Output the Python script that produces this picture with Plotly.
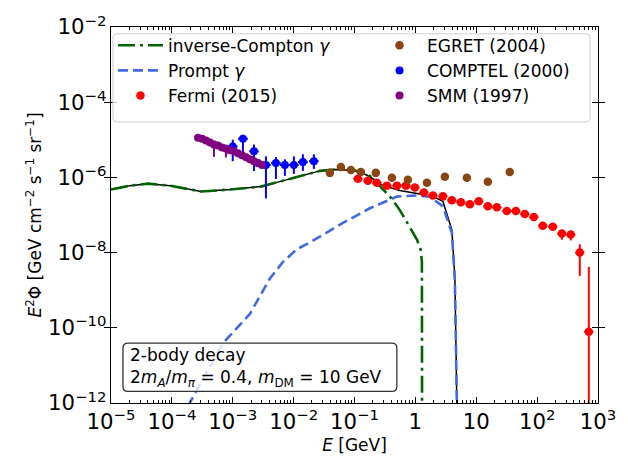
import plotly.graph_objects as go

# ---------------- data ----------------
# total (black) curve
total_E = [1.0e-5, 2.05e-5, 4.06e-5, 9.31e-5, 3.01e-4, 8.99e-4, 2.90e-3, 5.96e-3, 1.27e-2,
           2.70e-2, 4.76e-2, 0.102, 0.123, 0.179, 0.292, 0.556, 1.06, 1.94, 2.83, 3.98,
           4.46, 4.62, 4.81]
total_flux = [4.75e-7, 6.04e-7, 6.81e-7, 6.04e-7, 4.22e-7, 4.75e-7, 5.69e-7, 7.67e-7, 1.10e-6,
              1.49e-6, 1.63e-6, 1.53e-6, 1.40e-6, 1.04e-6, 6.04e-7, 4.48e-7, 3.74e-7, 3.13e-7,
              2.32e-7, 4.0e-8, 2.0e-9, 3.5e-11, 8.0e-13]

# inverse-Compton gamma
ic_E = [1.0e-5, 2.05e-5, 4.06e-5, 9.31e-5, 3.01e-4, 8.99e-4, 2.90e-3, 5.96e-3, 1.27e-2,
        2.70e-2, 4.76e-2, 0.102, 0.179, 0.261, 0.381, 0.556, 0.813, 1.06, 1.23, 1.28, 1.29]
ic_flux = [4.75e-7, 6.04e-7, 6.81e-7, 6.04e-7, 4.22e-7, 4.75e-7, 5.69e-7, 7.67e-7, 1.10e-6,
           1.49e-6, 1.63e-6, 1.53e-6, 1.10e-6, 6.04e-7, 3.13e-7, 1.35e-7, 4.58e-8, 2.23e-8,
           1.15e-8, 5.6e-9, 1.0e-13]

# prompt gamma
prompt_E = [1.84e-4, 6.90e-4, 1.91e-3, 4.08e-3, 6.67e-3, 1.13e-2, 1.85e-2, 6.46e-2, 0.179,
            0.497, 1.06, 1.73, 2.83, 3.98, 4.46, 4.62, 4.81]
prompt_flux = [8.3e-13, 3.89e-11, 2.34e-10, 2.04e-9, 5.62e-9, 1.23e-8, 1.86e-8, 6.17e-8, 1.51e-7,
               3.09e-7, 3.31e-7, 3.09e-7, 1.70e-7, 3.39e-8, 1.70e-9, 3.02e-11, 8.3e-13]

# Fermi (2015)
fermi_E = [0.114, 0.166, 0.233, 0.340, 0.497, 0.698, 0.982, 1.38, 1.94, 2.83, 3.97, 5.59, 7.85,
           11.0, 15.5, 21.8, 31.8, 44.7, 62.8, 88.3, 124, 181, 255, 357, 502, 706]
fermi_flux = [9.20e-7, 8.15e-7, 7.23e-7, 6.04e-7, 6.04e-7, 6.04e-7, 5.36e-7, 3.97e-7, 3.32e-7,
              3.13e-7, 2.46e-7, 2.18e-7, 1.93e-7, 2.32e-7, 1.71e-7, 1.61e-7, 1.27e-7, 1.27e-7,
              1.06e-7, 8.87e-8, 5.18e-8, 4.86e-8, 3.20e-8, 3.01e-8, 1.0e-8, 7.9e-11]
fermi_err_plus = [6e-8, 5e-8, 5e-8, 4e-8, 4e-8, 4e-8, 3.5e-8, 2.5e-8, 2e-8, 2e-8, 1.6e-8, 1.4e-8,
                  1.2e-8, 1.5e-8, 1.1e-8, 1.0e-8, 8e-9, 8e-9, 7e-9, 6e-9, 5e-9, 5e-9, 5e-9,
                  5e-9, 6.6e-9, 4.1e-9]
fermi_err_minus = [6e-8, 5e-8, 5e-8, 4e-8, 4e-8, 4e-8, 3.5e-8, 2.5e-8, 2e-8, 2e-8, 1.6e-8, 1.4e-8,
                   1.2e-8, 1.5e-8, 1.1e-8, 1.0e-8, 8e-9, 8e-9, 7e-9, 6e-9, 6e-9, 8e-9, 1.0e-8,
                   9e-9, 7.6e-9, 7.89e-11]
fermi_bin_halfwidth_dex = 0.075

# EGRET (2004)
egret_E = [0.0394, 0.0598, 0.0873, 0.127, 0.224, 0.411, 0.753, 1.55, 3.05, 7.01, 15.5, 35.5]
egret_flux = [1.32e-6, 1.89e-6, 1.58e-6, 1.40e-6, 1.32e-6, 9.77e-7, 8.65e-7, 7.24e-7, 1.04e-6,
              9.77e-7, 7.67e-7, 1.40e-6]
egret_err = [8e-8, 1.1e-7, 9e-8, 8e-8, 8e-8, 6e-8, 5e-8, 4e-8, 6e-8, 6e-8, 5e-8, 8e-8]

# COMPTEL (2000)
comptel_E = [1.0e-3, 1.47e-3, 2.23e-3, 3.51e-3, 5.12e-3, 7.19e-3, 1.01e-2, 1.42e-2, 2.15e-2]
comptel_flux = [6.65e-6, 1.07e-5, 4.93e-6, 2.13e-6, 2.40e-6, 2.13e-6, 2.13e-6, 2.55e-6, 2.70e-6]
comptel_hi = [1.01e-5, 1.36e-5, 7.50e-6, 3.63e-6, 3.47e-6, 3.02e-6, 3.63e-6, 4.12e-6, 4.12e-6]
comptel_lo = [2.70e-6, 3.63e-6, 1.48e-6, 2.75e-7, 9.12e-7, 1.10e-6, 1.24e-6, 1.49e-6, 1.68e-6]
comptel_E_lo = [8.3e-4, 1.22e-3, 1.86e-3, 2.92e-3, 4.26e-3, 5.98e-3, 8.4e-3, 1.18e-2, 1.79e-2]
comptel_E_hi = [1.2e-3, 1.77e-3, 2.68e-3, 4.22e-3, 6.15e-3, 8.64e-3, 1.21e-2, 1.71e-2, 2.58e-2]

# SMM (1997)
smm_E = [2.69e-4, 3.12e-4, 3.63e-4, 4.23e-4, 4.91e-4, 5.71e-4, 6.65e-4, 7.73e-4, 8.99e-4,
         1.05e-3, 1.22e-3, 1.42e-3, 1.65e-3, 1.91e-3, 2.23e-3, 2.59e-3, 3.01e-3]
smm_flux = [1.14e-5, 1.07e-5, 9.53e-6, 8.45e-6, 7.50e-6, 7.06e-6, 6.27e-6, 5.90e-6, 5.24e-6,
            4.93e-6, 4.38e-6, 3.88e-6, 3.44e-6, 3.05e-6, 2.70e-6, 2.40e-6, 2.13e-6]
smm_err_plus = [6e-7, 6e-7, 5e-7, 5e-7, 4e-7, 4e-7, 4e-7, 3e-7, 3e-7, 3e-7, 3e-7, 2e-7, 2e-7,
                2e-7, 2e-7, 2e-7, 1e-7]
smm_err_minus = [6e-7, 6e-7, 5e-7, 5e-7, 4.0e-6, 4e-7, 4e-7, 2.5e-6, 3e-7, 3e-7, 3e-7, 2e-7,
                 2e-7, 2e-7, 2e-7, 2e-7, 1e-7]

# ---------------- figure ----------------
FONT = "DejaVu Sans"
FS = 17

fig = go.Figure()

fig.add_trace(go.Scatter(x=total_E, y=total_flux, mode="lines",
                         line=dict(color="black", width=1.5), showlegend=False, hoverinfo="skip"))
fig.add_trace(go.Scatter(x=ic_E, y=ic_flux, mode="lines", name="inverse-Compton <i>γ</i>",
                         line=dict(color="#006400", width=2.6, dash="17px,5px,3px,5px"),
                         legend="legend", legendrank=1))
fig.add_trace(go.Scatter(x=prompt_E, y=prompt_flux, mode="lines", name="Prompt <i>γ</i>",
                         line=dict(color="#4169E1", width=2.6, dash="10px,5px"),
                         legend="legend", legendrank=2))

fermi_xm = [e * (1 - 10 ** (-fermi_bin_halfwidth_dex)) for e in fermi_E]
fermi_xp = [e * (10 ** fermi_bin_halfwidth_dex - 1) for e in fermi_E]
fig.add_trace(go.Scatter(x=fermi_E, y=fermi_flux, mode="markers", name="Fermi (2015)",
                         marker=dict(color="red", size=8.5),
                         error_y=dict(type="data", array=fermi_err_plus, arrayminus=fermi_err_minus,
                                      color="red", thickness=2, width=0),
                         error_x=dict(type="data", array=fermi_xp, arrayminus=fermi_xm,
                                      color="red", thickness=2, width=0),
                         legend="legend", legendrank=3))
fig.add_trace(go.Scatter(x=egret_E, y=egret_flux, mode="markers", name="EGRET (2004)",
                         marker=dict(color="#8B4513", size=8.5),
                         error_y=dict(type="data", array=egret_err, color="#8B4513",
                                      thickness=2, width=0),
                         legend="legend2", legendrank=1))
fig.add_trace(go.Scatter(x=comptel_E, y=comptel_flux, mode="markers", name="COMPTEL (2000)",
                         marker=dict(color="#0000FF", size=8),
                         error_y=dict(type="data",
                                      array=[h - f for h, f in zip(comptel_hi, comptel_flux)],
                                      arrayminus=[f - l for f, l in zip(comptel_flux, comptel_lo)],
                                      color="#0000FF", thickness=2, width=0),
                         error_x=dict(type="data",
                                      array=[h - e for h, e in zip(comptel_E_hi, comptel_E)],
                                      arrayminus=[e - l for e, l in zip(comptel_E, comptel_E_lo)],
                                      color="#0000FF", thickness=2, width=0),
                         legend="legend2", legendrank=2))
fig.add_trace(go.Scatter(x=smm_E, y=smm_flux, mode="markers", name="SMM (1997)",
                         marker=dict(color="#800080", size=8),
                         error_y=dict(type="data", array=smm_err_plus, arrayminus=smm_err_minus,
                                      color="#800080", thickness=2, width=0),
                         legend="legend2", legendrank=3))
# empty trace that carries the minor-tick overlay axis
fig.add_trace(go.Scatter(x=[], y=[], xaxis="x2", showlegend=False, hoverinfo="skip"))

axis_common = dict(showline=True, linecolor="black", linewidth=1.2, mirror="allticks",
                   ticks="inside", ticklen=6, tickwidth=1, tickcolor="black",
                   showgrid=False, zeroline=False, exponentformat="power",
                   tickfont=dict(family=FONT, size=FS, color="black"))

fig.update_layout(
    xaxis=dict(type="log", range=[-5, 3], dtick=1,
               title=dict(text="<i>E</i> [GeV]", font=dict(family=FONT, size=FS, color="black"),
                          standoff=6),
               **axis_common),
    xaxis2=dict(type="log", range=[-5, 3], dtick="D1", overlaying="x", anchor="y", side="bottom",
                ticks="inside", ticklen=3, tickwidth=1, tickcolor="black", mirror="allticks",
                showticklabels=False, showgrid=False, zeroline=False, showline=False),
    yaxis=dict(type="log", range=[-12, -2], dtick=2,
               title=dict(text="<i>E</i><sup>2</sup>Φ [GeV cm<sup>−2</sup> s<sup>−1</sup> sr<sup>−1</sup>]",
                          font=dict(family=FONT, size=FS, color="black"), standoff=2),
               **axis_common),
)


def rounded_box(x0, y0, x1, y1, rx, ry):
    return (f"M {x0+rx},{y0} L {x1-rx},{y0} Q {x1},{y0} {x1},{y0+ry} "
            f"L {x1},{y1-ry} Q {x1},{y1} {x1-rx},{y1} L {x0+rx},{y1} Q {x0},{y1} {x0},{y1-ry} "
            f"L {x0},{y0+ry} Q {x0},{y0} {x0+rx},{y0} Z")


# legend frame (shared by the two legend columns)
fig.add_shape(type="path", xref="paper", yref="paper", layer="above",
              path=rounded_box(0.0041, 0.7474, 0.9836, 0.9818, 0.008, 0.010),
              fillcolor="rgba(255,255,255,0.8)", line=dict(color="#cccccc", width=1))

# text box frame
fig.add_shape(type="path", xref="paper", yref="paper", layer="above",
              path=rounded_box(0.0246, 0.031, 0.587, 0.159, 0.0103, 0.013),
              fillcolor="rgba(255,255,255,0.8)", line=dict(color="#333333", width=1.3))

fig.add_annotation(xref="paper", yref="paper", x=0.037, y=0.095, xanchor="left", yanchor="middle",
                   text="2-body decay<br>2<i>m</i><sub><i>A</i></sub>/<i>m</i><sub><i>π</i></sub> = 0.4, "
                        "<i>m</i><sub>DM</sub> = 10 GeV",
                   showarrow=False, align="left",
                   font=dict(family=FONT, size=FS, color="black"),
                   borderpad=0)

fig.update_layout(
    width=628, height=464,
    margin=dict(l=111, r=30, t=20, b=60),
    paper_bgcolor="white", plot_bgcolor="white",
    font=dict(family=FONT, size=FS, color="black"),
    legend=dict(orientation="v", x=0.004, y=0.998, xanchor="left", yanchor="top",
                itemwidth=45, bgcolor="rgba(0,0,0,0)", borderwidth=0,
                font=dict(family=FONT, size=FS, color="black")),
    legend2=dict(orientation="v", x=0.536, y=0.998, xanchor="left", yanchor="top",
                 itemwidth=45, bgcolor="rgba(0,0,0,0)", borderwidth=0,
                 font=dict(family=FONT, size=FS, color="black")),
)

fig.write_html("out.html")
